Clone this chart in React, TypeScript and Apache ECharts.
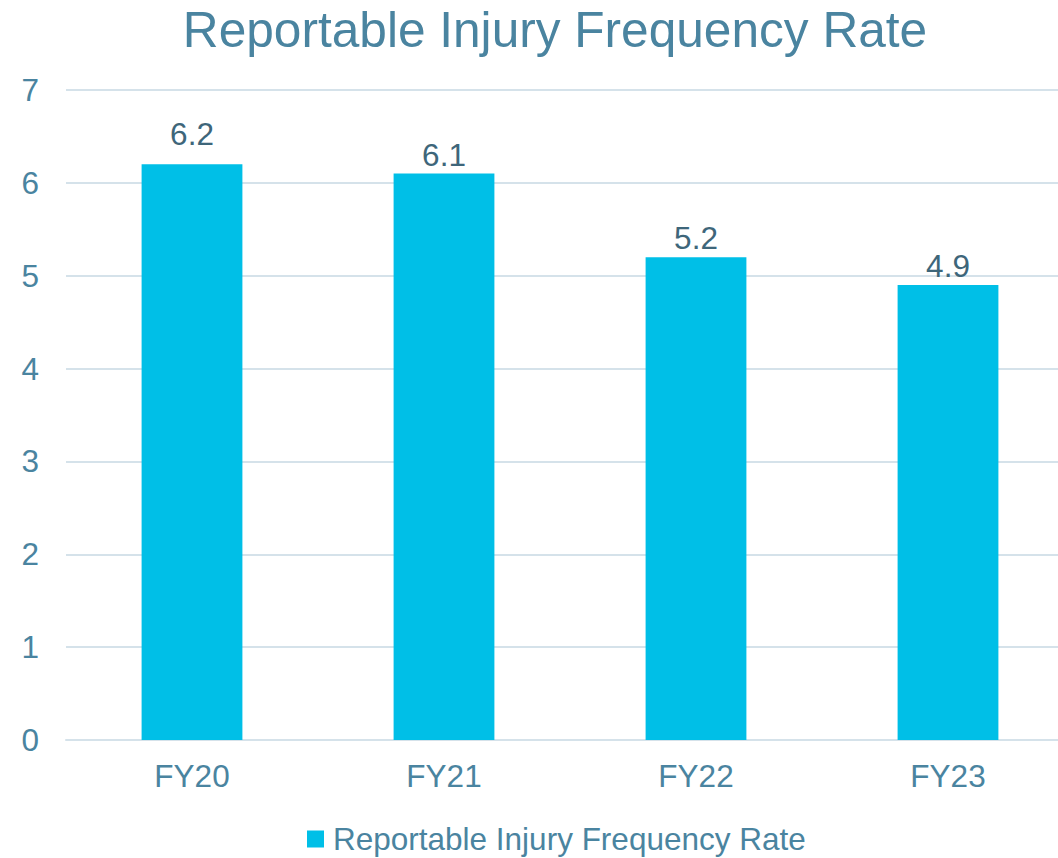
import React, { useEffect, useRef } from "react";
import * as echarts from "echarts";

const categories = ["FY20", "FY21", "FY22", "FY23"];
const values = [6.2, 6.1, 5.2, 4.9];
const seriesName = "Reportable Injury Frequency Rate";
const titleText = "Reportable Injury Frequency Rate";
const labelDistances = [14, 3, 3, 3];

export default function App() {
  const ref = useRef<HTMLDivElement>(null);
  useEffect(() => {
    if (!ref.current) return;
    const chart = echarts.init(ref.current, undefined, { renderer: "svg" });
    const font = "'Liberation Sans', Arial, sans-serif";
    chart.setOption({
      animation: false,
      backgroundColor: "#ffffff",
      title: {
        text: titleText,
        left: 550,
        textAlign: "center",
        top: 0,
        textStyle: { fontFamily: font, fontSize: 49.6, fontWeight: "normal", color: "#4A84A0" },
      },
      legend: {
        left: 307,
        top: 823,
        padding: 0,
        icon: "rect",
        itemWidth: 17,
        itemHeight: 17,
        textStyle: { fontFamily: font, fontSize: 31.5, color: "#4A84A0", padding: [0, 0, 0, 4] },
        data: [seriesName],
      },
      grid: { left: 66, top: 90, width: 1008, height: 650 },
      xAxis: {
        type: "category",
        data: categories,
        axisLine: { show: true, lineStyle: { color: "#D5E2EA", width: 2 } },
        axisTick: { show: false },
        axisLabel: { fontFamily: font, fontSize: 31.5, color: "#4A84A0", margin: 20 },
      },
      yAxis: {
        type: "value",
        min: 0,
        max: 7,
        interval: 1,
        axisLine: { show: false },
        axisTick: { show: false },
        splitLine: { lineStyle: { color: "#D5E2EA", width: 2 } },
        axisLabel: { fontFamily: font, fontSize: 31.5, color: "#4A84A0", margin: 27 },
      },
      series: [
        {
          name: seriesName,
          type: "bar",
          data: values.map((v, i) => ({ value: v, label: { distance: labelDistances[i] } })),
          barCategoryGap: "60%",
          itemStyle: { color: "#00BFE7" },
          label: {
            show: true,
            position: "top",
            distance: 3,
            fontFamily: font,
            fontSize: 31.5,
            color: "#3E667A",
          },
        },
      ],
    });
    return () => chart.dispose();
  }, []);
  return (
    <div style={{ position: "fixed", left: 0, top: 0, width: 1058, height: 858, overflow: "hidden", background: "#fff" }}>
      <div ref={ref} style={{ position: "absolute", left: 0, top: 0, width: 1090, height: 858 }} />
    </div>
  );
}
